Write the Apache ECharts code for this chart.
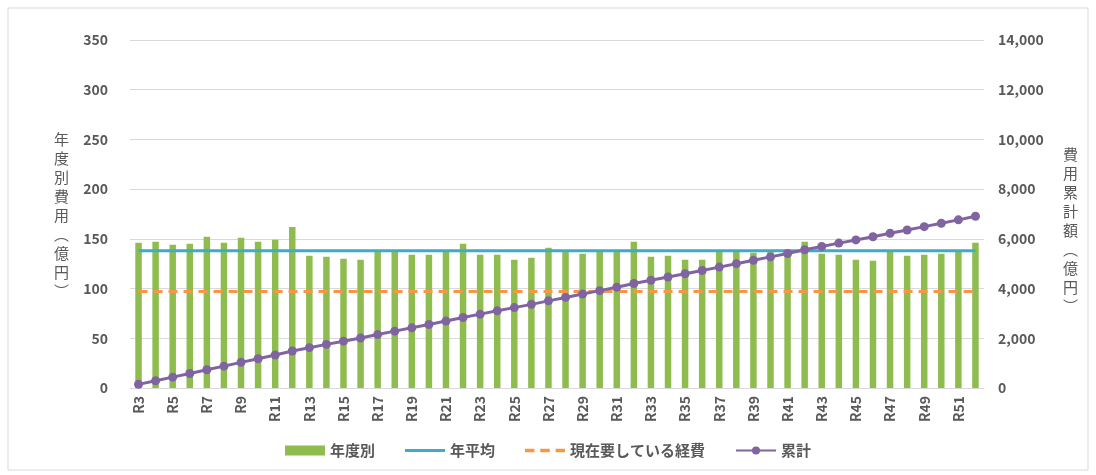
<!DOCTYPE html>
<html>
<head>
<meta charset="utf-8">
<script src="https://cdn.jsdelivr.net/npm/echarts@6/dist/echarts.min.js"></script>
<style>body{margin:0;background:#fff}#main{width:1096px;height:475px}</style>
</head>
<body>
<div id="main"></div>
<script>
const categories = [];
for (let i = 3; i <= 52; i++) categories.push('R' + i);
const yearly = [146,147,144,145,152,146,151,147,149,162,133,132,130,129,137,137,134,134,137,145,
  134,134,129,131,141,138,135,138,138,147,132,133,129,129,138,138,136,138,138,147,
  135,134,129,128,138,133,134,135,138,146];
const cumulative = [146,293,437,582,734,880,1031,1178,1327,1489,1622,1754,1884,2013,2150,2287,2421,2555,2692,2837,
  2971,3105,3234,3365,3506,3644,3779,3917,4055,4202,4334,4467,4596,4725,4863,5001,5137,5275,5413,5560,
  5695,5829,5958,6086,6224,6357,6491,6626,6764,6910];
const avgValue = 138;
const currentCost = 97;

const font = '"Noto Sans CJK JP", sans-serif';
const chart = echarts.init(document.getElementById('main'));
chart.setOption({
  textStyle: {fontFamily: font},
  graphic: [{type: 'rect', shape: {x: 8, y: 8, width: 1080, height: 462},
    style: {fill: 'none', stroke: '#d9d9d9', lineWidth: 1}},
    {type: 'text', left: 54, top: 130, style: {text: '年\n度\n別\n費\n用\n︵\n億\n円\n︶', fill: '#595959', lineHeight: 19, font: '15px "Noto Sans CJK JP"'}},
    {type: 'text', left: 1063, top: 145, style: {text: '費\n用\n累\n計\n額\n︵\n億\n円\n︶', fill: '#595959', lineHeight: 19, font: '15px "Noto Sans CJK JP"'}}],
  grid: {left: 130, right: 112, top: 40, bottom: 87},
  legend: {
    bottom: 12, left: 'center', itemGap: 30, itemWidth: 40, itemHeight: 10,
    textStyle: {fontSize: 15, color: '#595959', fontFamily: font, fontWeight: 'bold'},
    data: [
      {name: '年度別', icon: 'rect'},
      {name: '年平均', icon: 'path://M0,0L40,0L40,3L0,3Z', itemStyle: {color: '#3eabc8'}},
      {name: '現在要している経費', icon: 'path://M0,0L8,0L8,3L0,3Z M13,0L21,0L21,3L13,3Z M26,0L34,0L34,3L26,3Z', itemStyle: {color: '#f79646'}},
      {name: '累計'}
    ]
  },
  xAxis: {
    type: 'category', data: categories,
    axisLine: {lineStyle: {color: '#d9d9d9'}}, axisTick: {show: false},
    axisLabel: {rotate: 90, interval: 1, color: '#595959', fontSize: 14, fontWeight: 'bold'}
  },
  yAxis: [{
    type: 'value', min: 0, max: 350, interval: 50,
    axisLabel: {color: '#595959', fontSize: 14, fontWeight: 'bold', margin: 22},
    splitLine: {lineStyle: {color: '#d9d9d9'}}
  }, {
    type: 'value', min: 0, max: 14000, interval: 2000,
    axisLabel: {color: '#595959', fontSize: 14, fontWeight: 'bold', margin: 14,
      formatter: v => v.toLocaleString('en-US')},
    splitLine: {show: false}
  }],
  series: [
    {name: '年度別', type: 'bar', data: yearly, barWidth: '38%', itemStyle: {color: '#8fbc4f'}},
    {name: '年平均', type: 'line', data: categories.map(() => avgValue), symbol: 'none',
      lineStyle: {color: '#3eabc8', width: 3}, itemStyle: {color: '#3eabc8'}},
    {name: '現在要している経費', type: 'line', data: categories.map(() => currentCost), symbol: 'none',
      lineStyle: {color: '#f79646', width: 3, type: [9, 6]}, itemStyle: {color: '#f79646'}},
    {name: '累計', type: 'line', yAxisIndex: 1, data: cumulative, symbol: 'circle', symbolSize: 9,
      lineStyle: {color: '#8064a2', width: 3}, itemStyle: {color: '#8064a2'}}
  ]
});
</script>
</body>
</html>
